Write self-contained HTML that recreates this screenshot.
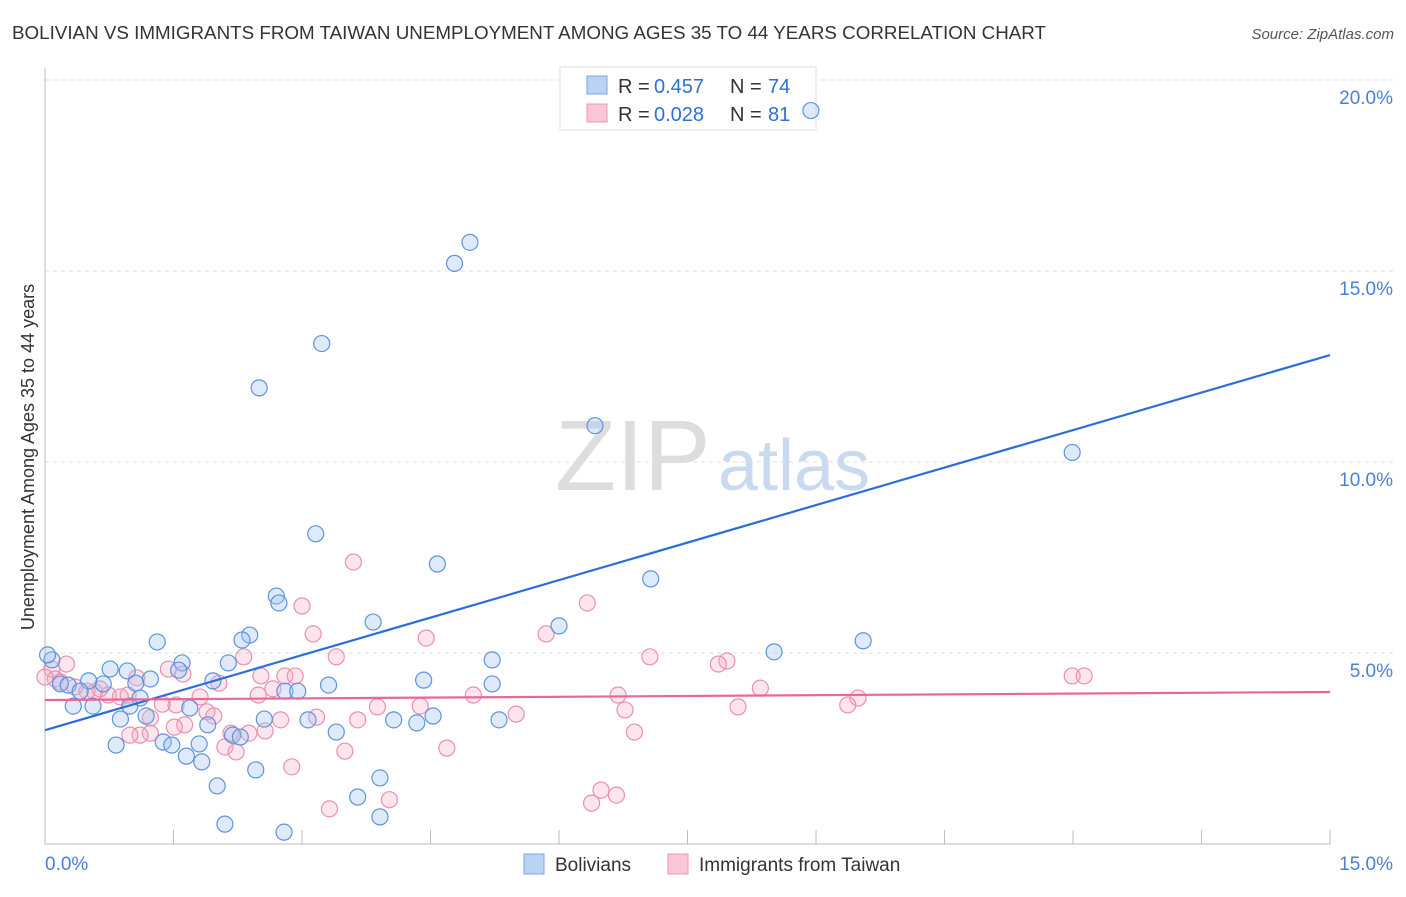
<!DOCTYPE html>
<html><head><meta charset="utf-8"><style>
body{margin:0;background:#fff;font-family:"Liberation Sans",sans-serif}
svg text{font-family:"Liberation Sans",sans-serif}
</style></head><body>
<svg id="c" width="1406" height="892">
<text x="12" y="39" font-size="18" fill="#333" textLength="1034" lengthAdjust="spacingAndGlyphs">BOLIVIAN VS IMMIGRANTS FROM TAIWAN UNEMPLOYMENT AMONG AGES 35 TO 44 YEARS CORRELATION CHART</text>
<text x="1394" y="39" font-size="15" fill="#555" text-anchor="end" font-style="italic">Source: ZipAtlas.com</text>
<text x="555" y="490" font-size="100" fill="#ddd" font-family="Liberation Serif">ZIP</text>
<text x="718" y="490" font-size="72" fill="#c9d9ef">atlas</text>
<text transform="translate(34,457) rotate(-90)" font-size="18" fill="#333" text-anchor="middle">Unemployment Among Ages 35 to 44 years</text>
<g id="grid"></g>
<g>
<rect x="560" y="67" width="256" height="63" fill="#fff" stroke="#ddd"/>
<rect x="587" y="76" width="20" height="18" fill="#b9d3f3" stroke="#7aa6e0"/>
<rect x="587" y="104" width="20" height="18" fill="#f9c6d5" stroke="#ec97b2"/>
<text x="618" y="93" font-size="20" fill="#333">R =</text><text x="654" y="93" font-size="20" fill="#2f6fd6">0.457</text>
<text x="730" y="93" font-size="20" fill="#333">N =</text><text x="768" y="93" font-size="20" fill="#2f6fd6">74</text>
<text x="618" y="121" font-size="20" fill="#333">R =</text><text x="654" y="121" font-size="20" fill="#2f6fd6">0.028</text>
<text x="730" y="121" font-size="20" fill="#333">N =</text><text x="768" y="121" font-size="20" fill="#2f6fd6">81</text>
</g>
<g id="pts"></g><g id="lines"></g>
<g>
<rect x="524" y="854" width="20" height="20" fill="#b9d3f3" stroke="#7aa6e0"/>
<text x="555" y="871" font-size="19" fill="#333">Bolivians</text>
<rect x="668" y="854" width="20" height="20" fill="#f9c6d5" stroke="#ec97b2"/>
<text x="699" y="871" font-size="19" fill="#333">Immigrants from Taiwan</text>
</g>
</svg>
<script>
const yTicks=[5,10,15,20];
const xTickLabels=["0.0%","15.0%"];
const bluePts=[[8.94,19.2],[4.96,15.75],[4.78,15.2],[3.23,13.1],[2.5,11.94],[6.42,10.95],[11.99,10.25],[3.16,8.12],[4.58,7.33],[7.07,6.94],[2.7,6.49],[2.73,6.31],[3.83,5.81],[6.0,5.71],[9.55,5.32],[2.39,5.47],[1.31,5.29],[2.3,5.34],[8.51,5.03],[5.22,4.82],[1.6,4.74],[2.14,4.74],[0.76,4.58],[0.96,4.53],[1.56,4.55],[0.08,4.82],[0.03,4.95],[4.42,4.29],[5.22,4.19],[3.31,4.16],[2.8,4.0],[2.95,4.0],[1.23,4.32],[1.06,4.21],[0.68,4.19],[0.51,4.27],[0.18,4.19],[0.27,4.16],[0.41,4.0],[1.11,3.82],[0.56,3.61],[0.33,3.61],[0.99,3.61],[1.69,3.56],[1.96,4.27],[0.88,3.27],[1.18,3.35],[2.56,3.27],[3.07,3.25],[4.07,3.25],[4.34,3.17],[4.53,3.35],[5.3,3.25],[1.9,3.12],[2.19,2.85],[3.4,2.93],[0.83,2.59],[1.38,2.67],[1.48,2.59],[1.8,2.62],[2.28,2.8],[1.65,2.3],[1.83,2.15],[2.46,1.94],[3.91,1.73],[2.01,1.52],[3.65,1.23],[3.91,0.71],[2.1,0.52],[2.79,0.31]];
const pinkPts=[[3.6,7.38],[6.33,6.31],[3.0,6.23],[3.13,5.5],[5.85,5.5],[4.45,5.39],[7.06,4.9],[2.32,4.9],[7.96,4.79],[7.86,4.71],[3.4,4.9],[11.99,4.4],[12.13,4.4],[1.44,4.58],[2.52,4.4],[2.8,4.4],[2.92,4.4],[1.61,4.45],[0.25,4.71],[0.08,4.58],[0.12,4.32],[0.18,4.24],[1.07,4.35],[2.03,4.21],[2.66,4.06],[2.49,3.9],[5.0,3.9],[6.69,3.9],[8.35,4.08],[9.49,3.82],[9.37,3.64],[8.09,3.59],[6.77,3.51],[0.58,3.98],[0.74,3.9],[0.88,3.85],[0.97,3.9],[1.81,3.85],[1.37,3.66],[1.53,3.64],[1.89,3.46],[3.88,3.59],[4.38,3.61],[5.5,3.4],[3.17,3.32],[3.65,3.25],[2.75,3.25],[1.23,3.3],[1.63,3.12],[1.97,3.35],[1.51,3.06],[2.17,2.9],[2.38,2.9],[2.57,2.96],[1.23,2.9],[1.11,2.85],[0.99,2.85],[2.1,2.54],[2.23,2.41],[3.5,2.43],[4.69,2.51],[6.88,2.93],[2.88,2.02],[4.02,1.16],[3.32,0.92],[6.49,1.41],[6.38,1.07],[6.67,1.28],[0.64,4.06],[0.49,4.0],[0.35,4.11],[0.0,4.37]];
const blueLine=[2.98,12.8], pinkLine=[3.77,3.98];
const X=v=>45+v*85.67, Y=v=>844-v*38.2;
const NS="http://www.w3.org/2000/svg";
function mk(t,a,p){const e=document.createElementNS(NS,t);for(const k in a)e.setAttribute(k,a[k]);p.appendChild(e);return e;}
const g=document.getElementById('grid');
for(const t of yTicks){
 const l=mk('line',{x1:45,x2:1394,y1:Y(t),y2:Y(t),stroke:'#ddd','stroke-dasharray':'4,4'},g);
 
 
 const tx=mk('text',{x:1393,y:Y(t)+24,'font-size':19,fill:'#4a7fd8','text-anchor':'end'},g);
 tx.textContent=t.toFixed(1)+'%';
 
 
}
const ax=mk('line',{x1:45,x2:1330,y1:844,y2:844,stroke:'#bbb'},g);


const ay=mk('line',{x1:45,x2:45,y1:68,y2:844,stroke:'#bbb'},g);


for(let i=0;i<=10;i++){const t=mk('line',{x1:X(i*1.5),x2:X(i*1.5),y1:830,y2:844,stroke:'#bbb'},g);
 
 }
const xl0=mk('text',{x:45,y:870,'font-size':19,fill:'#4a7fd8'},g);xl0.textContent=xTickLabels[0];


const xl1=mk('text',{x:1393,y:870,'font-size':19,fill:'#4a7fd8','text-anchor':'end'},g);xl1.textContent=xTickLabels[1];


const P=document.getElementById('pts');
pinkPts.forEach(p=>{const c=mk('circle',{cx:X(p[0]),cy:Y(p[1]),r:8,fill:'rgba(246,170,195,0.3)',stroke:'#ec8fae','stroke-width':1.2},P);
 
 });
bluePts.forEach(p=>{const c=mk('circle',{cx:X(p[0]),cy:Y(p[1]),r:8,fill:'rgba(160,195,240,0.35)',stroke:'#5e93dd','stroke-width':1.2},P);
 
 });
const L=document.getElementById('lines');
const bl=mk('line',{x1:X(0),y1:Y(blueLine[0]),x2:X(15),y2:Y(blueLine[1]),stroke:'#2a6fd6','stroke-width':2.2},L);


const pl=mk('line',{x1:X(0),y1:Y(pinkLine[0]),x2:X(15),y2:Y(pinkLine[1]),stroke:'#e8679a','stroke-width':2.2},L);


</script>
</body></html>
